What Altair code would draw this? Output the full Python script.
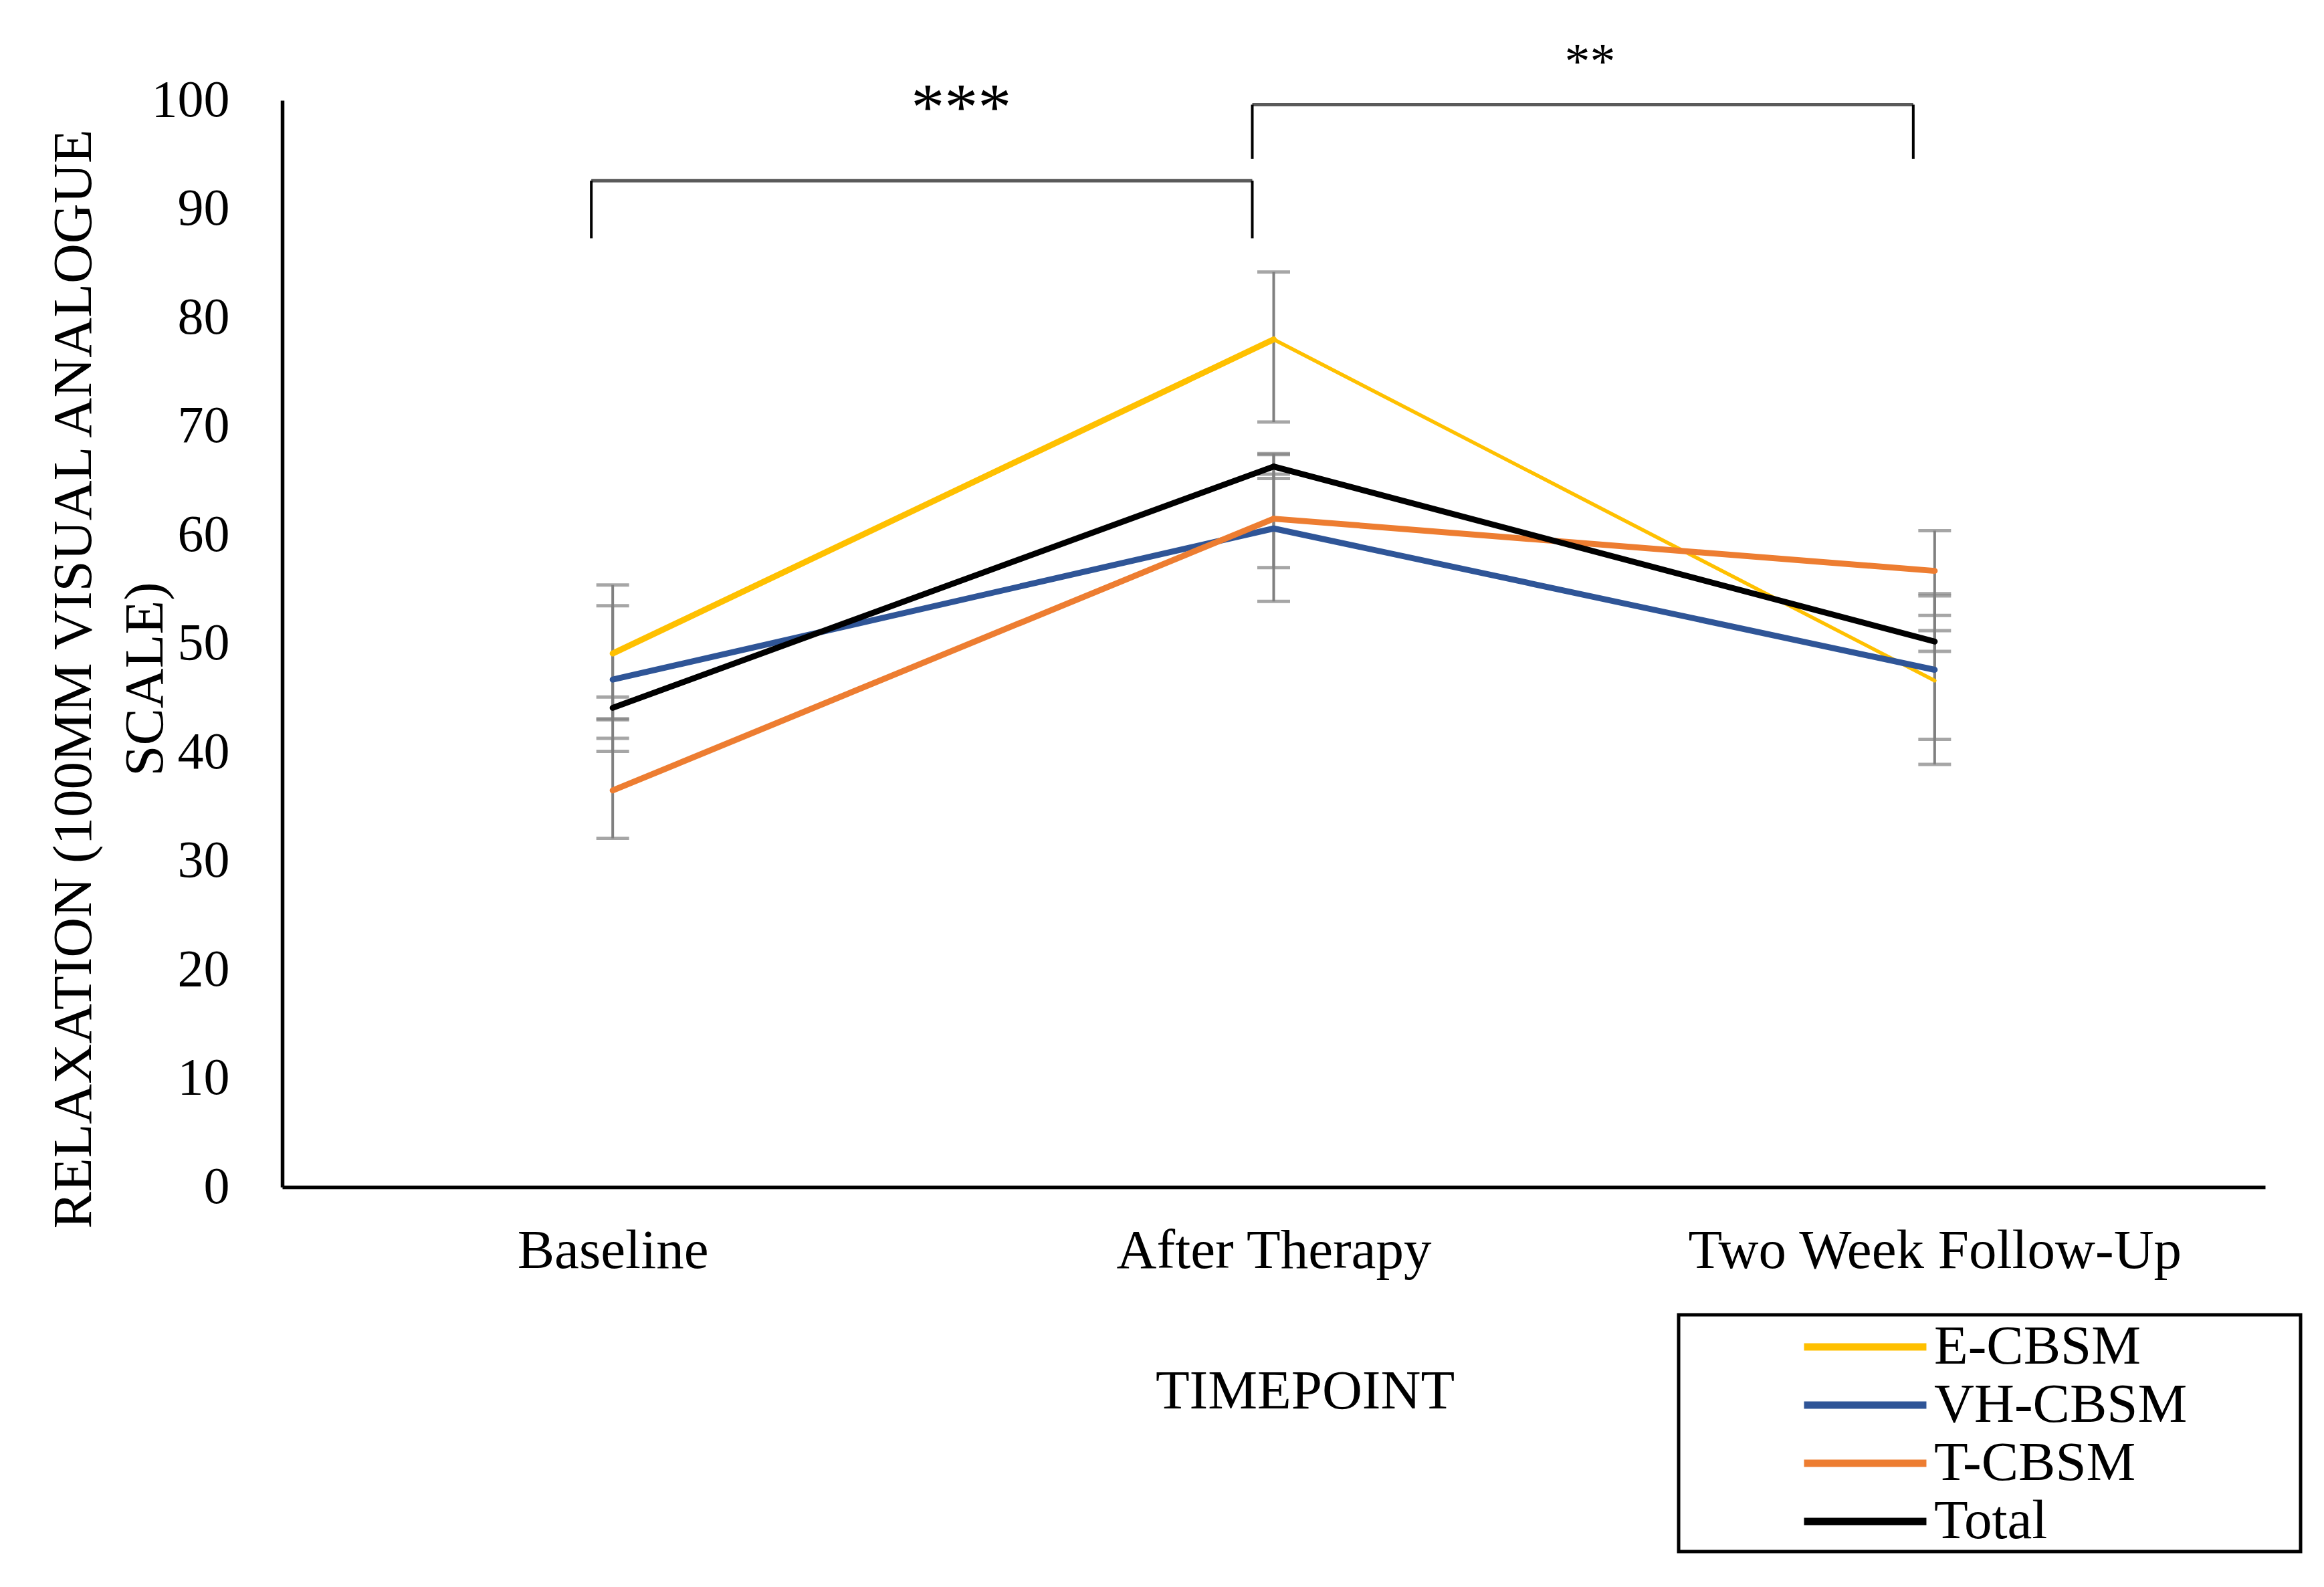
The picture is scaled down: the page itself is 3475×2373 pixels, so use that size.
import altair as alt
import pandas as pd

# ---------------- data ----------------
timepoints = ["Baseline", "After Therapy", "Two Week Follow-Up"]
groups = ["E-CBSM", "VH-CBSM", "T-CBSM", "Total"]
colors = ["#FFC000", "#2F5597", "#ED7D31", "#000000"]

e_mean = [49.1, 78.0, 46.6]
e_low = [43.0, 70.4, 38.9]
e_high = [55.4, 84.2, 54.4]

vh_mean = [46.7, 60.6, 47.6]
vh_low = [40.1, 53.9, 41.2]
vh_high = [53.5, 67.4, 54.6]

t_mean = [36.5, 61.5, 56.7]
t_low = [32.1, 57.0, 52.6]
t_high = [41.3, 65.6, 60.4]

tot_mean = [44.1, 66.3, 50.2]
tot_low = [43.1, 65.2, 49.3]
tot_high = [45.1, 67.5, 51.2]

bracket_from = ["Baseline", "After Therapy"]
bracket_to = ["After Therapy", "Two Week Follow-Up"]
bracket_top = [92.6, 99.6]
bracket_bottom = [87.3, 94.6]
bracket_label = ["***", "**"]

# ---------------- tables ----------------
means = [e_mean, vh_mean, t_mean, tot_mean]
lows = [e_low, vh_low, t_low, tot_low]
highs = [e_high, vh_high, t_high, tot_high]

pts = []
segs = []
for g, m, lo, hi in zip(groups, means, lows, highs):
    for i, tp in enumerate(timepoints):
        pts.append({"series": g, "timepoint": tp, "mean": m[i], "low": lo[i], "high": hi[i]})
    for i in range(len(timepoints) - 1):
        segs.append({"series": g, "t0": timepoints[i], "t1": timepoints[i + 1],
                     "y0": m[i], "y1": m[i + 1]})
points = pd.DataFrame(pts)
segments = pd.DataFrame(segs)
brackets = pd.DataFrame({"from": bracket_from, "to": bracket_to, "top": bracket_top,
                         "bottom": bracket_bottom, "label": bracket_label})

FONT = "Liberation Serif"
W, H = 2965, 1625

xscale = alt.Scale(type="point", domain=timepoints, padding=0.5)
yscale = alt.Scale(domain=[0, 100], nice=False)

xaxis = alt.Axis(labelAngle=0, labelFont=FONT, labelFontSize=83, labelColor="black",
                 labelPadding=54, labelLimit=0, ticks=False, tickSize=0, grid=False,
                 domainColor="black", domainWidth=5.5,
                 titleFont=FONT, titleFontSize=83, titleFontWeight="normal", titleColor="black",
                 titleX=1529, titleY=264, titleBaseline="top", titleAlign="center",
                 titleLimit=0)
yaxis = alt.Axis(values=list(range(0, 101, 10)), labelFont=FONT, labelFontSize=78,
                 labelColor="black", labelPadding=79, labelLimit=0, ticks=False, tickSize=0,
                 grid=False, domainColor="black", domainWidth=5.5,
                 titleFont=FONT, titleFontSize=83, titleFontWeight="normal", titleColor="black",
                 titleAngle=-90, titleBaseline="middle", titleAlign="center",
                 titleLineHeight=107, titleX=-312, titleY=865, titleLimit=0)

XT = "TIMEPOINT"
YT = ["RELAXATION (100MM VISUAL ANALOGUE", "SCALE)"]


def X(field):
    return alt.X(f"{field}:N", scale=xscale, axis=xaxis, title=XT, sort=timepoints)


def Y(field):
    return alt.Y(f"{field}:Q", scale=yscale, axis=yaxis, title=YT)


base_pts = alt.Chart(points)

err = base_pts.mark_rule(color="#808080", strokeWidth=4).encode(
    x=X("timepoint"), y=Y("low"), y2="high")
cap_lo = base_pts.mark_tick(color="#808080", size=49, thickness=5).encode(
    x=X("timepoint"), y=Y("low"))
cap_hi = base_pts.mark_tick(color="#808080", size=49, thickness=5).encode(
    x=X("timepoint"), y=Y("high"))

lines = alt.Chart(segments).mark_rule(strokeCap="round").encode(
    x=X("t0"), x2="t1", y=Y("y0"), y2="y1",
    color=alt.Color("series:N", scale=alt.Scale(domain=groups, range=colors),
                    legend=alt.Legend(title=None, orient="none", legendX=2088, legendY=1816,
                                      direction="vertical", fillColor="white",
                                      strokeColor="black", padding=3,
                                      labelFont=FONT, labelFontSize=83, labelColor="black",
                                      labelLimit=0,
                                      labelExpr="datum.label + '\u2003\u2003\u200b'",
                                      symbolType="M-2.316,0H2.316", symbolSize=6241,
                                      symbolStrokeWidth=11, symbolOffset=231,
                                      labelOffset=58, rowPadding=0)),
    strokeWidth=alt.condition("datum.series == 'E-CBSM' && datum.t0 == 'After Therapy'",
                              alt.value(5.5), alt.value(9)),
)

base_br = alt.Chart(brackets)
br_h = base_br.mark_rule(color="#5a5a5a", strokeWidth=5, xOffset=-32, x2Offset=-32).encode(
    x=X("from"), x2="to", y=Y("top"))
br_l = base_br.mark_rule(color="black", strokeWidth=4, xOffset=-32).encode(
    x=X("from"), y=Y("top"), y2="bottom")
br_r = base_br.mark_rule(color="black", strokeWidth=4, xOffset=-32).encode(
    x=X("to"), y=Y("top"), y2="bottom")
star1 = base_br.transform_filter(alt.datum.label == "***").mark_text(
    font=FONT, fontSize=100, baseline="alphabetic", align="center", dx=521, dy=-77,
    color="black").encode(x=X("from"), y=Y("top"), text="label:N")
star2 = base_br.transform_filter(alt.datum.label == "**").mark_text(
    font=FONT, fontSize=76, baseline="alphabetic", align="center", dx=473, dy=-40,
    color="black").encode(x=X("from"), y=Y("top"), text="label:N")

chart = alt.layer(err, cap_lo, cap_hi, lines, br_h, br_l, br_r, star1, star2).properties(
    width=W, height=H,
    autosize=alt.AutoSizeParams(type="none"),
    padding={"left": 414, "top": 142, "right": 70, "bottom": 585},
    background="white",
).configure_view(strokeWidth=0).configure_legend(strokeWidth=5)

chart.save("out.html", embed_options={"renderer": "svg", "actions": False})
